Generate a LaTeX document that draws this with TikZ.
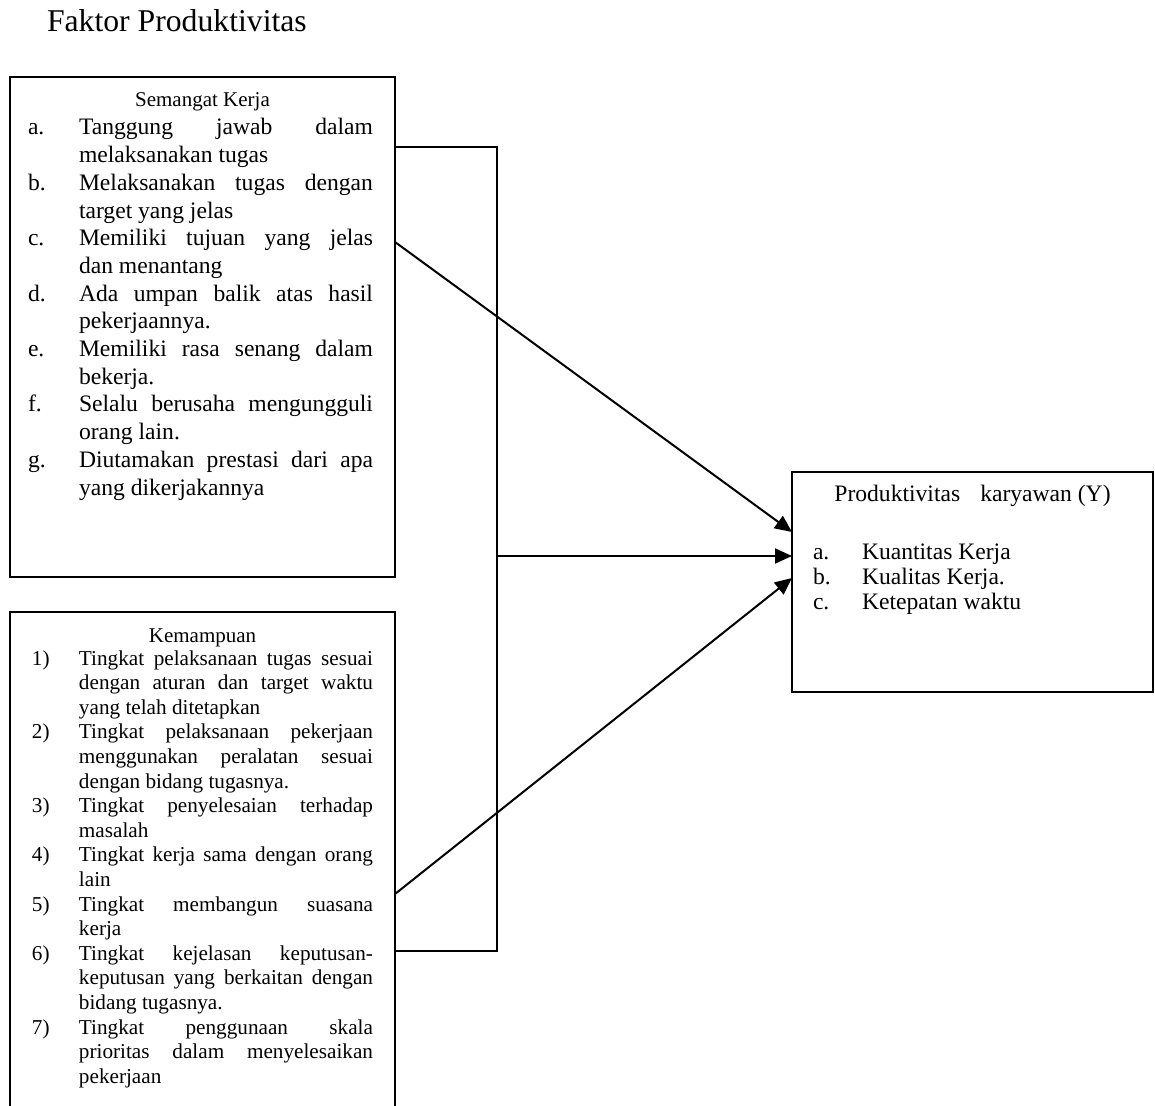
\documentclass[tikz,border=0pt]{standalone}
\usepackage{fontspec}
\setmainfont{Liberation Serif}
\usetikzlibrary{arrows.meta, calc, positioning}

\newlength\lebarlabel
\newcommand{\butir}[2]{\noindent\hangindent=\lebarlabel\hangafter=1\makebox[\lebarlabel][l]{#1}#2\par}
\tolerance=9999
\hyphenpenalty=10000
\emergencystretch=2em

\tikzset{
  kotak/.style={draw, line width=1pt, inner sep=0pt, outer sep=0pt},
  isi/.style={anchor=base west, inner sep=0pt, outer sep=0pt, align=justify},
  judulkotak/.style={anchor=base, inner sep=0pt, font=\fontsize{10.5}{12}\selectfont},
  garis/.style={line width=1pt},
  panah/.style={line width=1pt, -{Triangle[length=8.5pt,width=7.5pt]}},
}

\begin{document}
\begin{tikzpicture}[x=0.5pt, y=-0.5pt]
        \useasboundingbox (0,0) rectangle (1155,1106);
        \clip (0,0) rectangle (1155,1106);

        \node[isi, font=\fontsize{15.85}{19}\selectfont] (judul) at (47,32) {Faktor Produktivitas};

        % kotak variabel
        \node[kotak, minimum width=192.5pt, minimum height=250pt] (semangat) at (202.5,327) {};
        \node[kotak, minimum width=192.5pt, minimum height=259pt] (kemampuan) at (202.5,871) {};
        \node[kotak, minimum width=180.5pt, minimum height=110pt] (produk) at (972.5,582) {};

        \node[judulkotak] (judulsemangat) at (202.5,107) {Semangat Kerja};
        \node[isi, text width=172.5pt, font=\fontsize{11.8}{13.85}\selectfont] (isisemangat) at (28,135) {\setlength\lebarlabel{25.5pt}%
          \butir{a.}{Tanggung jawab dalam\linebreak melaksanakan tugas}
          \butir{b.}{Melaksanakan tugas dengan\linebreak target yang jelas}
          \butir{c.}{Memiliki tujuan yang jelas\linebreak dan menantang}
          \butir{d.}{Ada umpan balik atas hasil\linebreak pekerjaannya.}
          \butir{e.}{Memiliki rasa senang dalam\linebreak bekerja.}
          \butir{f.}{Selalu berusaha mengungguli\linebreak orang lain.}
          \butir{g.}{Diutamakan prestasi dari apa\linebreak yang dikerjakannya}};

        \node[judulkotak] (judulkemampuan) at (202.5,642) {Kemampuan};
        \node[isi, text width=170.5pt, font=\fontsize{10.6}{12.3}\selectfont] (isikemampuan) at (32,665) {\setlength\lebarlabel{23.5pt}%
          \butir{1)}{Tingkat pelaksanaan tugas sesuai\linebreak dengan aturan dan target waktu\linebreak yang telah ditetapkan}
          \butir{2)}{Tingkat pelaksanaan pekerjaan\linebreak menggunakan peralatan sesuai\linebreak dengan bidang tugasnya.}
          \butir{3)}{Tingkat penyelesaian terhadap\linebreak masalah}
          \butir{4)}{Tingkat kerja sama dengan orang\linebreak lain}
          \butir{5)}{Tingkat membangun suasana\linebreak kerja}
          \butir{6)}{Tingkat kejelasan keputusan-\linebreak keputusan yang berkaitan dengan\linebreak bidang tugasnya.}
          \butir{7)}{Tingkat penggunaan skala\linebreak prioritas dalam menyelesaikan\linebreak pekerjaan}};

        \node[anchor=base, inner sep=0pt, font=\fontsize{11.8}{12.5}\selectfont] (judulproduk) at (972.5,502) {Produktivitas\hspace{10pt}karyawan (Y)};
        \node[isi, text width=160pt, font=\fontsize{11.8}{12.5}\selectfont] (isiproduk) at (813,559) {\setlength\lebarlabel{24.5pt}%
          \butir{a.}{Kuantitas Kerja}
          \butir{b.}{Kualitas Kerja.}
          \butir{c.}{Ketepatan waktu}};

        % penghubung
        \coordinate (sudutatas) at (497,147.5);
        \coordinate (sudutbawah) at (497,951);
        \coordinate (cabang) at (497,556);
        \draw[garis] (semangat.east |- sudutatas) -- (sudutatas) -- (sudutbawah) -- (sudutbawah -| kemampuan.east);
        \draw[panah] (cabang) -- (cabang -| produk.west);
        \draw[panah] (semangat.east |- 0,242) -- (produk.west |- 0,532);
        \draw[panah] (kemampuan.east |- 0,894) -- (produk.west |- 0,578);
    \end{tikzpicture}
\end{document}
